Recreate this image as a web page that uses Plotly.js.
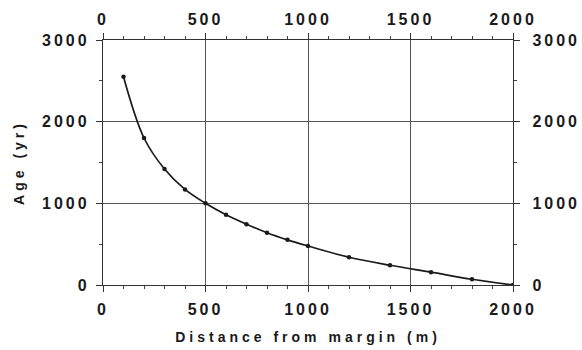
<!DOCTYPE html>
<html>
<head>
<meta charset="utf-8">
<script src="https://cdn.plot.ly/plotly-3.0.1.min.js"></script>
<style>
  html, body { margin: 0; padding: 0; background: #fff; }
  #chart { width: 582px; height: 350px; }
  .xtick text, .ytick text, .x2tick text, .y2tick text { letter-spacing: 3px; }
  .xtitle, .ytitle { letter-spacing: 4px; }
</style>
</head>
<body>
<div id="chart"></div>
<script>
// Distance from margin (m)
var distance = [100, 200, 300, 400, 500, 600, 700, 800, 900, 1000, 1200, 1400, 1600, 1800, 2000];
// Age (yr)
var age = [2550, 1800, 1420, 1170, 1000, 860, 745, 640, 553, 478, 340, 242, 157, 70, 0];

var xTicks = [0, 500, 1000, 1500, 2000];
var yTicks = [0, 1000, 2000, 3000];

var ink = '#1a1a1a';
var gridCol = '#555';
var fam = '"Liberation Sans", Arial, sans-serif';
var font = {family: fam, size: 16, color: ink, weight: 'bold'};
var titleFont = {family: fam, size: 14, color: ink, weight: 'bold'};

var main = {
  x: distance, y: age, type: 'scatter', mode: 'lines+markers',
  line: {color: ink, width: 1.7, shape: 'spline', smoothing: 1},
  marker: {color: ink, size: 4.5},
  hoverinfo: 'x+y', showlegend: false
};
var ghost = {
  x: distance, y: age, type: 'scatter', mode: 'markers', xaxis: 'x2', yaxis: 'y2',
  marker: {opacity: 0}, hoverinfo: 'skip', showlegend: false
};

function axisBase(extra) {
  var a = {
    showline: true, linecolor: '#333', linewidth: 1.2,
    ticks: 'outside', ticklen: 6, tickwidth: 1, tickcolor: '#333',
    tickfont: font, zeroline: false
  };
  for (var k in extra) a[k] = extra[k];
  return a;
}

var layout = {
  width: 582, height: 350,
  margin: {l: 103, r: 69, t: 40, b: 65},
  paper_bgcolor: '#fff', plot_bgcolor: '#fff',
  xaxis: axisBase({
    range: [0, 2000], tickvals: xTicks, ticktext: xTicks.map(String),
    showgrid: true, gridcolor: gridCol, gridwidth: 1,
    minor: {ticks: 'outside', ticklen: 3, tickcolor: '#444', dtick: 100, tick0: 0, showgrid: false},
    ticklabelstandoff: 4,
    title: {text: 'Distance from margin (m)', font: titleFont, standoff: 14}
  }),
  yaxis: axisBase({
    range: [0, 3000], tickvals: yTicks, ticktext: yTicks.map(String),
    showgrid: true, gridcolor: gridCol, gridwidth: 1,
    minor: {ticks: 'outside', ticklen: 3, tickcolor: '#444', dtick: 500, tick0: 0, showgrid: false},
    ticklabelstandoff: 3,
    title: {text: 'Age (yr)', font: titleFont, standoff: 14}
  }),
  xaxis2: axisBase({
    range: [0, 2000], tickvals: xTicks, ticktext: xTicks.map(String),
    overlaying: 'x', side: 'top', anchor: 'y', showgrid: false,
    minor: {ticks: 'outside', ticklen: 3, tickcolor: '#444', dtick: 100, tick0: 0, showgrid: false},
    ticklabelstandoff: 1
  }),
  yaxis2: axisBase({
    range: [0, 3000], tickvals: yTicks, ticktext: yTicks.map(String),
    overlaying: 'y', side: 'right', anchor: 'x', showgrid: false,
    minor: {ticks: 'outside', ticklen: 3, tickcolor: '#444', dtick: 500, tick0: 0, showgrid: false},
    ticklabelstandoff: 9
  })
};

Plotly.newPlot('chart', [main, ghost], layout, {displayModeBar: false, staticPlot: true});
</script>
</body>
</html>
